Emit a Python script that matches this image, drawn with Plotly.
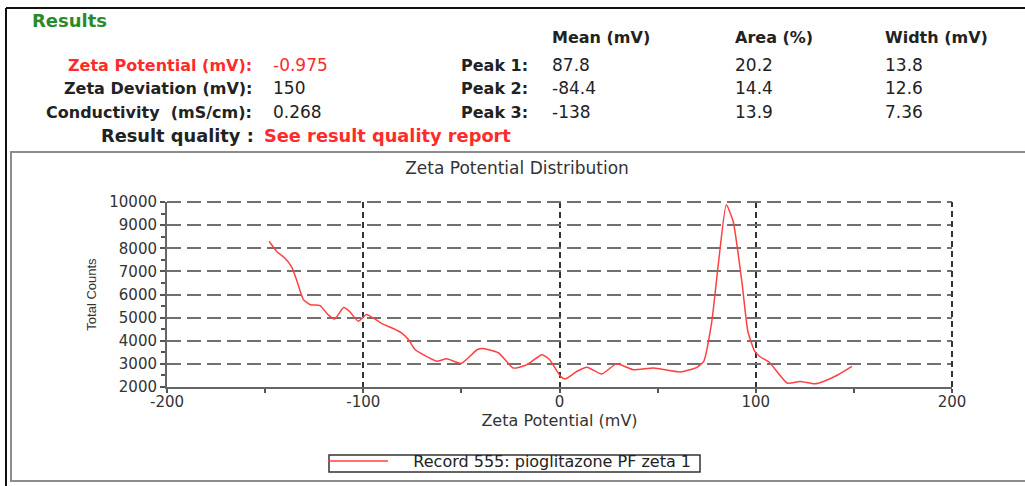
import plotly.graph_objects as go

W, H = 1025, 486
ML, MR, MT, MB = 167, 73, 202, 99

# curve
zeta_mv = [-148, -144, -140, -136.5, -134, -130.5, -127, -122, -118, -114.5, -110, -107, -102.5,
           -98.5, -95, -90.5, -84.5, -80.5, -77, -73.5, -69.5, -62.5, -57.5, -50, -42, -39, -31,
           -23.5, -16.5, -9, -5, 0.5, 3, 9, 14, 21.5, 29, 37.5, 48, 61.5, 70, 73.5, 77.5, 81, 85,
           88.5, 93, 96, 99.5, 102, 107, 116, 122.5, 130, 134.5, 142, 149]
total_counts = [8300, 7850, 7580, 7190, 6640, 5780, 5560, 5520, 5130, 4940, 5440, 5270, 4840,
                5130, 4990, 4740, 4520, 4340, 4050, 3610, 3400, 3110, 3220, 3020, 3610, 3660, 3470,
                2820, 2970, 3400, 3180, 2460, 2350, 2680, 2850, 2560, 3000, 2750, 2820, 2650, 2850,
                3110, 4770, 7360, 9880, 9160, 6500, 4400, 3540, 3320, 3060, 2170, 2240, 2140, 2240,
                2530, 2890]

x_ticks = [-200, -100, 0, 100, 200]
x_ticktext = ["-200", "-100", "0", "100", "200"]
y_ticks = [2000, 3000, 4000, 5000, 6000, 7000, 8000, 9000, 10000]

result_labels = ["Zeta Potential (mV):", "Zeta Deviation (mV):", "Conductivity  (mS/cm):"]
result_values = ["-0.975", "150", "0.268"]
peak_labels = ["Peak 1:", "Peak 2:", "Peak 3:"]
peak_mean = ["87.8", "-84.4", "-138"]
peak_area = ["20.2", "14.4", "13.9"]
peak_width = ["13.8", "12.6", "7.36"]
peak_headers = ["Mean (mV)", "Area (%)", "Width (mV)"]

RED = "#ff2b2b"
DARK = "#222222"
FONT = "DejaVu Sans"


def px(x):
    return (x - ML) / (W - ML - MR)


def py(y):
    return (H - MB - y) / (H - MT - MB)


def txt(x, y, s, color=DARK, size=16, bold=False, anchor="left"):
    return dict(x=px(x), y=py(y), xref="paper", yref="paper", text=f"<b>{s}</b>" if bold else s,
                showarrow=False, xanchor=anchor, yanchor="middle",
                font=dict(family=FONT, size=size, color=color))


notes = [txt(30, 20, "Results", color="#2a8a2a", size=18, bold=True)]
rows_y = [65, 88, 112]
for i, yy in enumerate(rows_y):
    col = RED if i == 0 else DARK
    notes.append(txt(254, yy, result_labels[i], color=col, bold=True, anchor="right"))
    notes.append(txt(271, yy, result_values[i], color=col, size=17))
    notes.append(txt(459, yy, peak_labels[i], bold=True))
    notes.append(txt(550, yy, peak_mean[i], size=17))
    notes.append(txt(733, yy, peak_area[i], size=17))
    notes.append(txt(883, yy, peak_width[i], size=17))
for xx, h in zip([550, 733, 883], peak_headers):
    notes.append(txt(xx, 37, h, bold=True))
notes.append(txt(256, 135, "Result quality :", bold=True, size=17.8, anchor="right"))
notes.append(txt(262, 135, "See result quality report", color=RED, size=17.8, bold=True))

shapes = [
    dict(type="line", xref="paper", yref="paper", x0=px(6), x1=px(1030), y0=py(8), y1=py(8),
         line=dict(color="#111", width=2)),
    dict(type="line", xref="paper", yref="paper", x0=px(6), x1=px(6), y0=py(8), y1=py(490),
         line=dict(color="#111", width=2)),
    dict(type="rect", xref="paper", yref="paper", x0=px(11), x1=px(1030), y0=py(152), y1=py(481),
         line=dict(color="#8c8c8c", width=2), layer="below"),
    # dashed frame on top and right, like the other grid lines
    dict(type="line", xref="paper", yref="paper", x0=0, x1=1, y0=1, y1=1,
         line=dict(color="#707070", width=2, dash="14px,6px")),
    dict(type="line", xref="paper", yref="paper", x0=1, x1=1, y0=0, y1=1,
         line=dict(color="#333", width=2, dash="6px,4px")),
    # thin frame round the legend
    dict(type="rect", xref="paper", yref="paper", x0=px(329), x1=px(700), y0=py(455), y1=py(472),
         line=dict(color="#333", width=1.5)),
]

fig = go.Figure()
fig.add_trace(go.Scatter(
    x=zeta_mv, y=total_counts, mode="lines", name="\u00a0" * 4 + "Record 555: pioglitazone PF zeta 1",
    line=dict(color="#ff4040", width=1.5, shape="spline", smoothing=0.5),
))

fig.update_layout(
    width=W, height=H,
    margin=dict(l=ML, r=MR, t=MT, b=MB, autoexpand=False),
    paper_bgcolor="white", plot_bgcolor="white",
    font=dict(family=FONT, color="#333"),
    title=dict(text="Zeta Potential Distribution", x=517 / W, xanchor="center",
               y=1 - 168 / H, yanchor="middle", font=dict(size=17, color="#333")),
    xaxis=dict(range=[-200, 200], tickvals=x_ticks, ticktext=x_ticktext, ticks="outside", ticklen=4,
               tickwidth=2, tickcolor="#555", showline=True, linecolor="#666", linewidth=2,
               showgrid=True, gridcolor="#333", gridwidth=2, griddash="6px,4px", zeroline=False,
               ticklabelstandoff=-4,
               minor=dict(dtick=50, ticks="outside", ticklen=4, tickwidth=2, tickcolor="#555", showgrid=False),
               tickfont=dict(size=15), title=dict(text="Zeta Potential (mV)", font=dict(size=16), standoff=4)),
    yaxis=dict(range=[2000, 10000], tickvals=y_ticks, tickformat="d", ticks="outside", ticklen=5,
               tickwidth=2, tickcolor="#555", showline=True, linecolor="#666", linewidth=2,
               showgrid=True, gridcolor="#707070", gridwidth=2, griddash="14px,6px", zeroline=False,
               minor=dict(dtick=500, ticks="outside", ticklen=4, tickwidth=2, tickcolor="#555", showgrid=False),
               tickfont=dict(size=15),
               title=dict(text="Total Counts", font=dict(family="Liberation Sans", size=13), standoff=10)),
    showlegend=True,
    legend=dict(x=px(323), y=py(444), xanchor="left", yanchor="top", borderwidth=0,
                bgcolor="rgba(0,0,0,0)", font=dict(size=16, color="#222"),
                itemwidth=60, tracegroupgap=0),
    annotations=notes,
    shapes=shapes,
)

fig.write_html("out.html", config={"displayModeBar": False},
               post_script="document.body.style.margin='0px';")
